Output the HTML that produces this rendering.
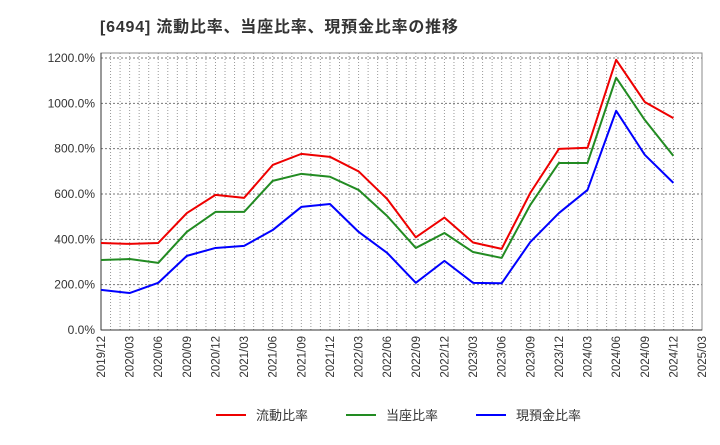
<!DOCTYPE html>
<html><head><meta charset="utf-8"><style>
body{margin:0;background:#fff;}
svg text{font-family:"Liberation Sans","Noto Sans CJK JP",sans-serif;}
</style></head><body>
<svg width="720" height="440" xmlns="http://www.w3.org/2000/svg">
<text x="100" y="32" font-size="16" font-weight="bold" fill="#333" textLength="358" lengthAdjust="spacing">[6494]  流動比率、当座比率、現預金比率の推移</text>
<g id="grid"></g><g id="axes"></g><g id="series"></g>
<g>
<line x1="216" y1="415" x2="246" y2="415" stroke="#e00" stroke-width="2"/>
<text x="256" y="420" font-size="13" fill="#333">流動比率</text>
<line x1="346" y1="415" x2="376" y2="415" stroke="#228b22" stroke-width="2"/>
<text x="386" y="420" font-size="13" fill="#333">当座比率</text>
<line x1="476" y1="415" x2="506" y2="415" stroke="#00f" stroke-width="2"/>
<text x="516" y="420" font-size="13" fill="#333">現預金比率</text>
</g>
</svg>
<script>
const categories=["2019/12","2020/03","2020/06","2020/09","2020/12","2021/03","2021/06","2021/09","2021/12","2022/03","2022/06","2022/09","2022/12","2023/03","2023/06","2023/09","2023/12","2024/03","2024/06","2024/09","2024/12"];
const tickLabels=["2019/12","2020/03","2020/06","2020/09","2020/12","2021/03","2021/06","2021/09","2021/12","2022/03","2022/06","2022/09","2022/12","2023/03","2023/06","2023/09","2023/12","2024/03","2024/06","2024/09","2024/12","2025/03"];
const yTicks=[0,200,400,600,800,1000,1200];
const currentRatio=[384,380,384,516,596,583,728,777,764,700,578,409,496,386,358,605,799,804,1192,1006,935];
const quickRatio=[309,313,296,433,521,521,658,689,676,618,503,362,428,344,318,552,737,737,1113,927,768];
const cashRatio=[177,163,208,327,362,371,441,543,556,433,340,208,305,208,206,388,516,618,967,773,649];
const NS="http://www.w3.org/2000/svg";
const L=101,R=702,T=53,B=330;
const xq=i=>L+i*(R-L)/21;
const y=v=>B-v*(B-58)/1200;
function mk(tag,attrs,parent){const e=document.createElementNS(NS,tag);for(const k in attrs)e.setAttribute(k,attrs[k]);parent.appendChild(e);return e;}
const grid=document.getElementById('grid'),axes=document.getElementById('axes'),series=document.getElementById('series');
mk('rect',{x:L,y:T,width:R-L,height:B-T,fill:'none',stroke:'#888','stroke-width':1},grid);
for(let m=1;m<63;m++){const x=L+m*(R-L)/63;
const g=mk('line',{x1:x,y1:T,x2:x,y2:B,stroke:'#999','stroke-dasharray':'1,2','stroke-width':1},grid);

}
yTicks.forEach(v=>{
if(v>0){const g=mk('line',{x1:L,y1:y(v),x2:R,y2:y(v),stroke:'#777','stroke-dasharray':'2,2','stroke-width':1},grid);

}
const t=mk('text',{x:L-6,y:y(v)+4,'text-anchor':'end','font-size':12,fill:'#333'},axes);
t.textContent=v.toFixed(1)+'%';


});
mk('line',{x1:L,y1:T,x2:L,y2:B,stroke:'#333'},axes);
mk('line',{x1:L,y1:B,x2:R,y2:B,stroke:'#333'},axes);
tickLabels.forEach((s,i)=>{const x=xq(i);
const t=mk('text',{x:x+4,y:B+6,'text-anchor':'end','font-size':11.5,fill:'#333',transform:`rotate(-90 ${x+4} ${B+6})`},axes);
t.textContent=s;

});
[[currentRatio,'#e00','current-ratio-line'],[quickRatio,'#228b22','quick-ratio-line'],[cashRatio,'#00f','cash-ratio-line']].forEach(([d,c,n])=>{
const p=mk('polyline',{points:d.map((v,i)=>xq(i)+','+y(v)).join(' '),fill:'none',stroke:c,'stroke-width':2,'stroke-linejoin':'round'},series);

});
</script>
</body></html>
